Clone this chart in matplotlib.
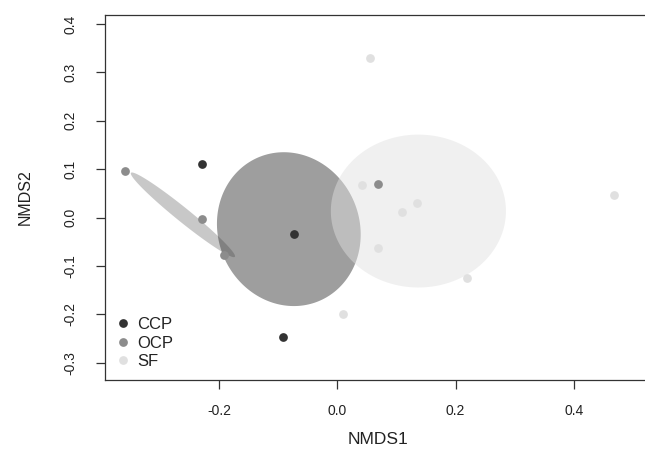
import numpy as np
import matplotlib
matplotlib.use("Agg")
import matplotlib.pyplot as plt
from matplotlib.lines import Line2D

plt.rcParams['font.family'] = ['Liberation Sans', 'DejaVu Sans']

groups = ["CCP", "OCP", "SF"]
colors = {"CCP": "#333333", "OCP": "#8c8c8c", "SF": "#e0e0e0"}

# site scores (NMDS1, NMDS2)
ccp_x = [-0.2285, -0.0737, -0.0923]
ccp_y = [0.110, -0.0337, -0.2465]
ocp_x = [-0.359, -0.228, -0.192, 0.069]
ocp_y = [0.0965, -0.004, -0.078, 0.070]
sf_x = [0.0545, 0.041, 0.135, 0.109, 0.069, 0.219, 0.010, 0.4675]
sf_y = [0.3306, 0.068, 0.030, 0.011, -0.062, -0.126, -0.200, 0.047]

# ellipse parameters: centre and covariance (data units)
ell_center = {"CCP": (-0.082, -0.024), "OCP": (-0.261, 0.0056), "SF": (0.137, 0.0134)}
ell_cov = {
    "CCP": [[0.01476, -0.00135], [-0.00135, 0.02528]],
    "OCP": [[0.007764, -0.007538], [-0.007538, 0.007660]],
    "SF": [[0.0219, 0.0], [0.0, 0.02496]],
}

xticks = [-0.2, 0.0, 0.2, 0.4]
yticks = [-0.3, -0.2, -0.1, 0.0, 0.1, 0.2, 0.3, 0.4]

fig = plt.figure(figsize=(6.45, 4.54), dpi=100)
ax = fig.add_axes([105/645, 74/454, 546.5/645, 365/454])

t = np.linspace(0, 2*np.pi, 200)
circ = np.vstack([np.cos(t), np.sin(t)])
for g in ["OCP", "CCP", "SF"]:
    L = np.linalg.cholesky(np.array(ell_cov[g]))
    pts = L @ circ
    cx, cy = ell_center[g]
    ax.fill(pts[0] + cx, pts[1] + cy, color=colors[g], alpha=0.475, lw=0)

for g, xs, ys in [("CCP", ccp_x, ccp_y), ("OCP", ocp_x, ocp_y), ("SF", sf_x, sf_y)]:
    ax.plot(xs, ys, 'o', color=colors[g], ms=6.3, mew=0, zorder=5)

ax.set_xlim(-0.3927, 0.531)
ax.set_ylim(-0.3358, 0.4186)
ax.set_xticks(xticks)
ax.set_xticklabels(["-0.2", "0.0", "0.2", "0.4"])
ax.set_yticks(yticks)
ax.set_yticklabels(["-0.3", "-0.2", "-0.1", "0.0", "0.1", "0.2", "0.3", "0.4"],
                   rotation=90, va='center')
ax.tick_params(axis='both', direction='out', length=6.5, width=0.9, labelsize=10,
               color='#333333', labelcolor='#222222')
ax.tick_params(axis='x', pad=11)
ax.tick_params(axis='y', pad=13.5)
for s in ax.spines.values():
    s.set_color('#333333')
    s.set_linewidth(0.9)
ax.spines['right'].set_visible(False)

ax.set_xlabel("NMDS1", fontsize=12.5, color='#222222', labelpad=10)
ax.set_ylabel("NMDS2", fontsize=11.5, color='#222222', labelpad=22)

handles = [Line2D([], [], ls='none', marker='o', ms=6.3, mew=0, color=colors[g]) for g in groups]
leg = ax.legend(handles, groups, loc='lower left', bbox_to_anchor=(0.0, 0.0),
                frameon=False, fontsize=12, handlelength=0.8, handletextpad=0.5,
                labelspacing=0.22, borderaxespad=0.3, borderpad=0.35)
for txt in leg.get_texts():
    txt.set_color('#222222')

fig.savefig("out.png", dpi=100)
